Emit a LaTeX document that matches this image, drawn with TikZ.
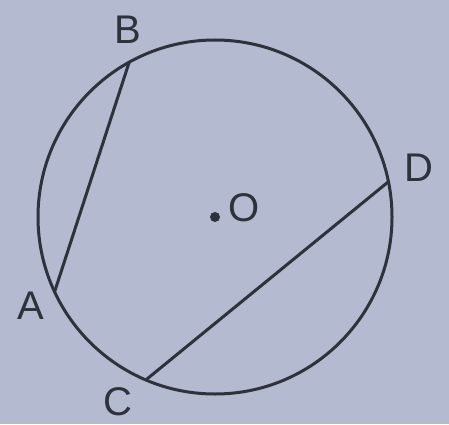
\documentclass[tikz,border=0pt]{standalone}
\usepackage{fontspec}
\setmainfont{Liberation Sans}
\usepackage{tikz}
\usetikzlibrary{positioning}
\definecolor{paper}{RGB}{180,186,208}
\definecolor{ink}{RGB}{45,50,60}
\begin{document}
\begin{tikzpicture}[x=1pt,y=1pt,line/.style={draw=ink,line width=3pt},lbl/.style={text=ink,font=\fontsize{40}{46}\selectfont,inner sep=0pt}]
\fill[paper] (0,0) rectangle (449,424);
\useasboundingbox (0,0) rectangle (449,424);
\coordinate (O) at (215,207);
\coordinate (A) at ([shift={(205:177)}]O);
\coordinate (B) at ([shift={(119:177)}]O);
\coordinate (C) at ([shift={(247:177)}]O);
\coordinate (D) at ([shift={(11.5:177)}]O);
\draw[line] (O) circle[radius=177];
\fill[ink] (O) circle[radius=5];
\draw[line] (A)--(B);
\draw[line] (C)--(D);
\node[lbl] (labelB) at (127.5,394) {B};
\node[lbl] (labelA) at (31,118) {A};
\node[lbl] (labelC) at (118,22) {C};
\node[lbl] (labelD) at (419,256.5) {D};
\node[lbl] (labelO) at (244.5,216.5) {O};
\end{tikzpicture}
\end{document}
